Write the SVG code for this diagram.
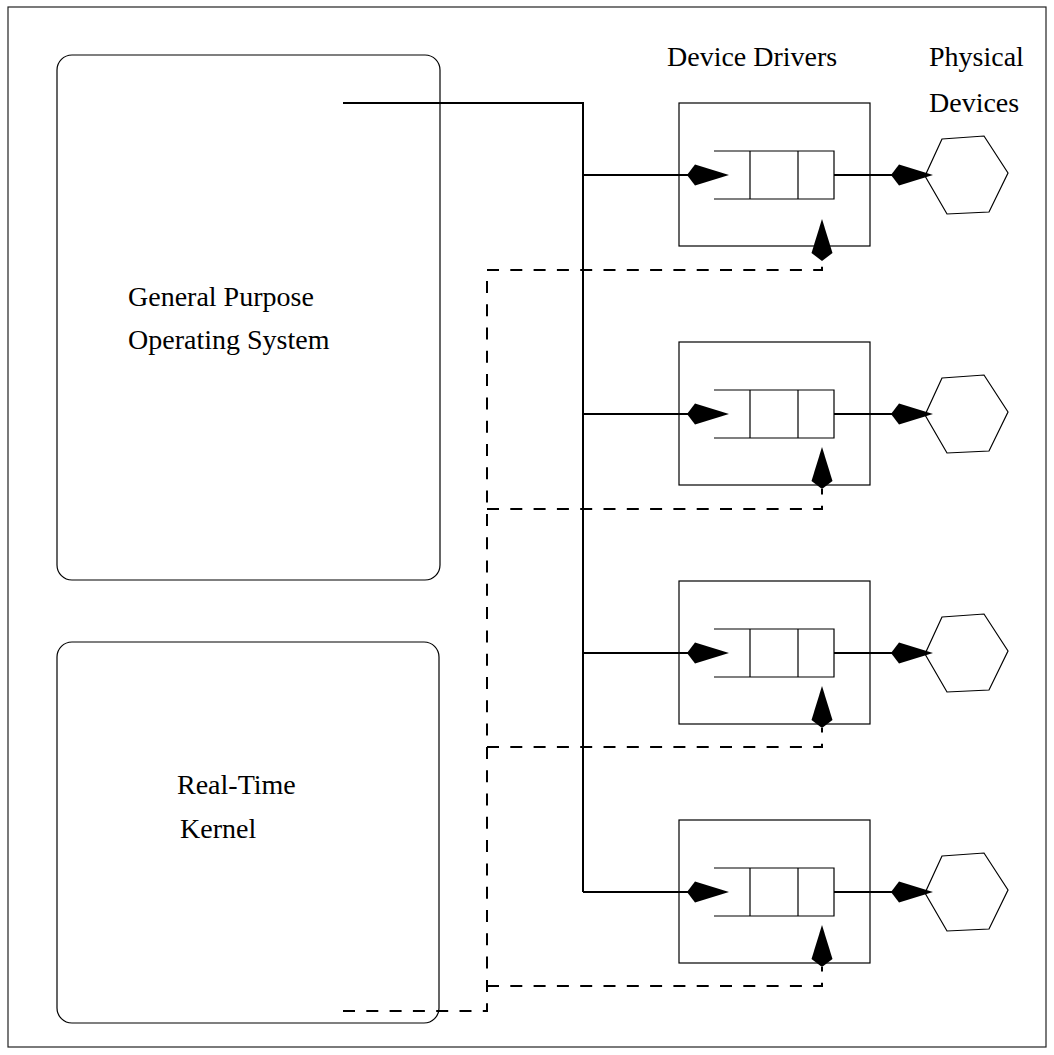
<svg xmlns="http://www.w3.org/2000/svg" width="1054" height="1055" viewBox="0 0 1054 1055">
  <style>
    .frame { fill: none; stroke: #222; stroke-width: 1.2; }
    .box { fill: none; stroke: #000; stroke-width: 1.2; }
    .queue { fill: none; stroke: #000; stroke-width: 1.2; }
    .wire { fill: none; stroke: #000; stroke-width: 2; }
    .dash { fill: none; stroke: #000; stroke-width: 2; stroke-dasharray: 12 11.3; }
    .head { fill: #000; stroke: none; }
    .dev { fill: #fff; stroke: #000; stroke-width: 1.2; }
    text { font-family: "Liberation Serif", "Times New Roman", serif; font-size: 28px; fill: #000; }
  </style>
  <defs>
    <!-- kite-shaped arrowhead, tip at origin, pointing +x -->
    <path id="kite" class="head" d="M-42,0 L-34,-10.5 L0,0 L-34,10.5 Z"/>
    <!-- slightly skewed hexagon for a physical device, centred on row line y=0 -->
    <path id="hex" class="dev" d="M942,-36 L984,-39 L1008,-2 L989,37 L947,39 L925,1 Z"/>
    <!-- three-slot queue inside a driver, centred on row line y=0 -->
    <g id="queue">
      <path class="queue" d="M714,-24 H834 V24 H714 M750,-24 V24 M798,-24 V24"/>
    </g>
  </defs>

  <!-- outer frame -->
  <rect class="frame" x="8" y="7" width="1038" height="1040"/>

  <!-- operating systems -->
  <g id="gpos">
    <rect class="box" x="57" y="55" width="383" height="525" rx="15" ry="15"/>
    <text x="128" y="306">General Purpose</text>
    <text x="128" y="349">Operating System</text>
  </g>
  <g id="rtk">
    <rect class="box" x="57" y="642" width="382" height="381" rx="15" ry="15"/>
    <text x="177" y="794">Real-Time</text>
    <text x="180" y="838">Kernel</text>
  </g>

  <!-- column headings -->
  <g id="headings">
    <text x="667" y="66">Device Drivers</text>
    <text x="929" y="66">Physical</text>
    <text x="929" y="112">Devices</text>
  </g>

  <!-- device drivers -->
  <g id="driver1">
    <rect class="box" x="679" y="103" width="191" height="143"/>
    <use href="#queue" transform="translate(0,175)"/>
  </g>
  <g id="driver2">
    <rect class="box" x="679" y="342" width="191" height="143"/>
    <use href="#queue" transform="translate(0,414)"/>
  </g>
  <g id="driver3">
    <rect class="box" x="679" y="581" width="191" height="143"/>
    <use href="#queue" transform="translate(0,653)"/>
  </g>
  <g id="driver4">
    <rect class="box" x="679" y="820" width="191" height="143"/>
    <use href="#queue" transform="translate(0,892)"/>
  </g>

  <!-- physical devices -->
  <g id="device1"><use href="#hex" transform="translate(0,175)"/></g>
  <g id="device2"><use href="#hex" transform="translate(0,414)"/></g>
  <g id="device3"><use href="#hex" transform="translate(0,653)"/></g>
  <g id="device4"><use href="#hex" transform="translate(0,892)"/></g>

  <!-- connectors -->
  <g id="connectors">
    <!-- solid bus from the general purpose OS to every driver -->
    <path class="wire" d="M343,103 H583 V892 M583,175 H690 M583,414 H690 M583,653 H690 M583,892 H690"/>
    <!-- driver to device links -->
    <path class="wire" d="M834,175 H894 M834,414 H894 M834,653 H894 M834,892 H894"/>
    <!-- dashed bus from the real-time kernel to every driver -->
    <path class="dash" d="M343,1011 H487 V270"/>
    <path class="dash" d="M487,270 H822 V261"/>
    <path class="dash" d="M487,509 H822 V489"/>
    <path class="dash" d="M487,747 H822 V728"/>
    <path class="dash" d="M487,986 H822 V967"/>
    <!-- arrowheads -->
    <use href="#kite" transform="translate(729,175)"/>
    <use href="#kite" transform="translate(729,414)"/>
    <use href="#kite" transform="translate(729,653)"/>
    <use href="#kite" transform="translate(729,892)"/>
    <use href="#kite" transform="translate(933,175)"/>
    <use href="#kite" transform="translate(933,414)"/>
    <use href="#kite" transform="translate(933,653)"/>
    <use href="#kite" transform="translate(933,892)"/>
    <use href="#kite" transform="translate(822,219) rotate(-90)"/>
    <use href="#kite" transform="translate(822,447) rotate(-90)"/>
    <use href="#kite" transform="translate(822,686) rotate(-90)"/>
    <use href="#kite" transform="translate(822,925) rotate(-90)"/>
  </g>
</svg>
